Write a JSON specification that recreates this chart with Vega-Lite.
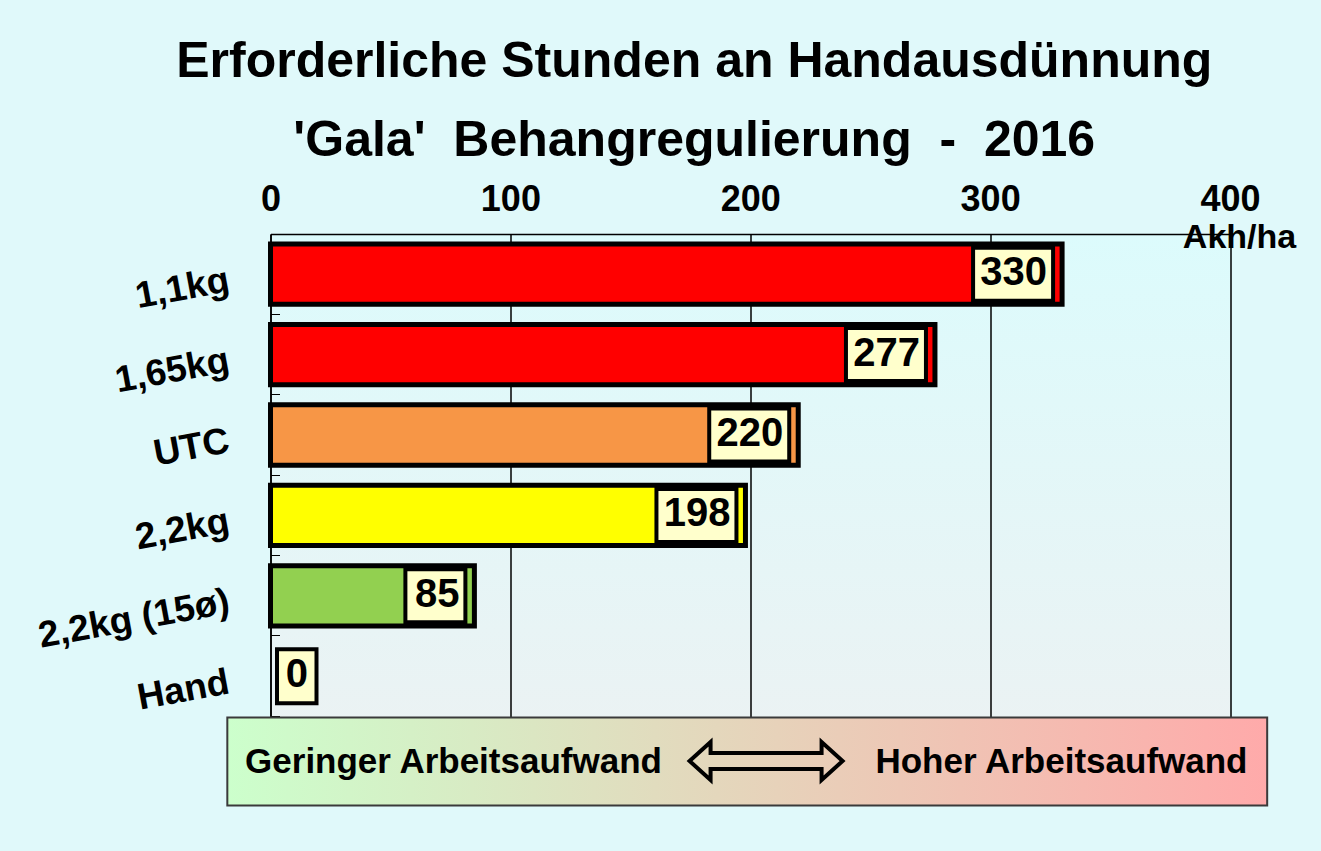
{
  "$schema": "https://vega.github.io/schema/vega-lite/v6.json",
  "autosize": {"type": "none"},
  "width": 959.5,
  "height": 562.8,
  "padding": {"left": 270.5, "top": 234, "right": 91, "bottom": 54.2},
  "background": "#e0f9fa",
  "view": {
    "stroke": null,
    "fill": {"gradient": "linear", "x1": 0, "y1": 0, "x2": 0, "y2": 1,
      "stops": [{"offset": 0, "color": "#dcfbfc"}, {"offset": 1, "color": "#edf1f2"}]}
  },
  "title": {
    "text": ["Erforderliche Stunden an Handausdünnung", "'Gala'\u00a0\u00a0Behangregulierung\u00a0\u00a0-\u00a0\u00a02016"],
    "font": "Liberation Sans",
    "fontSize": 50,
    "fontWeight": "bold",
    "color": "black",
    "lineHeight": 79,
    "anchor": "middle",
    "frame": "group",
    "dx": -56,
    "offset": 15
  },
  "datasets": {
    "werte": [
      {"Kategorie": "1,1kg", "Wert": 330},
      {"Kategorie": "1,65kg", "Wert": 277},
      {"Kategorie": "UTC", "Wert": 220},
      {"Kategorie": "2,2kg", "Wert": 198},
      {"Kategorie": "2,2kg (15ø)", "Wert": 85},
      {"Kategorie": "Hand", "Wert": 0}
    ],
    "notiz": [
      {"Kategorie": "box", "Links": "Geringer Arbeitsaufwand", "Rechts": "Hoher Arbeitsaufwand"}
    ]
  },
  "layer": [
    {
      "data": {"name": "werte"},
      "mark": {"type": "bar", "height": {"band": 0.75}, "stroke": "black", "strokeJoin": "miter"},
      "encoding": {
        "x": {
          "field": "Wert", "type": "quantitative",
          "scale": {"domain": [0, 400], "nice": false, "zero": true},
          "axis": {
            "orient": "top", "values": [0, 100, 200, 300, 400],
            "grid": true, "gridColor": "black", "gridWidth": 1.5, "gridOpacity": 1,
            "domain": true, "domainColor": "black", "domainWidth": 1.5,
            "ticks": false,
            "labelFont": "Liberation Sans", "labelFontSize": 36, "labelFontWeight": "bold", "labelColor": "black",
            "labelPadding": 24, "labelBaseline": "alphabetic", "labelFlush": false,
            "title": "Akh/ha", "titleFont": "Liberation Sans", "titleFontSize": 34, "titleFontWeight": "bold",
            "titleColor": "black", "titleX": 968.5, "titleY": 13, "titleAlign": "center",
            "titleBaseline": "alphabetic", "titleAngle": 0
          }
        },
        "y": {
          "field": "Kategorie", "type": "nominal",
          "scale": {"domain": ["1,1kg", "1,65kg", "UTC", "2,2kg", "2,2kg (15ø)", "Hand", "box"], "paddingInner": 0, "paddingOuter": 0},
          "axis": {
            "orient": "left", "title": null, "grid": false,
            "domain": true, "domainColor": "black", "domainWidth": 1.5,
            "ticks": true, "tickSize": -9, "tickColor": "black", "tickWidth": 1, "bandPosition": 0,
            "labelFont": "Liberation Sans", "labelFontSize": 37, "labelFontWeight": "bold", "labelColor": "black",
            "labelAngle": -10.5, "labelAlign": "right", "labelBaseline": "middle",
            "labelPadding": 51, "labelOffset": 6, "labelLimit": 500,
            "labelExpr": "datum.value == 'box' ? '' : datum.value"
          }
        },
        "color": {
          "field": "Kategorie", "type": "nominal",
          "scale": {"domain": ["1,1kg", "1,65kg", "UTC", "2,2kg", "2,2kg (15ø)", "Hand"],
            "range": ["#ff0000", "#ff0000", "#f79646", "#ffff00", "#92d050", "#92d050"]},
          "legend": null
        },
        "strokeWidth": {"condition": {"test": "datum.Wert == 0", "value": 0}, "value": 5}
      }
    },
    {
      "data": {"name": "notiz"},
      "mark": {
        "type": "bar", "height": {"band": 1.095}, "yOffset": 5, "clip": false,
        "stroke": "#3a3a3a", "strokeWidth": 2,
        "fill": {"gradient": "linear", "x1": 0, "y1": 0, "x2": 1, "y2": 0,
          "stops": [{"offset": 0, "color": "#ccffcc"}, {"offset": 1, "color": "#ffaaaa"}]}
      },
      "encoding": {
        "x": {"datum": -18, "type": "quantitative"},
        "x2": {"datum": 415.5},
        "y": {"field": "Kategorie", "type": "nominal"}
      }
    },
    {
      "data": {"name": "notiz"},
      "mark": {"type": "text", "align": "left", "baseline": "middle", "dy": 5.5, "font": "Liberation Sans", "fontSize": 35, "fontWeight": "bold", "color": "black", "clip": false},
      "encoding": {
        "x": {"datum": -10.6, "type": "quantitative"},
        "y": {"field": "Kategorie", "type": "nominal"},
        "text": {"field": "Links"}
      }
    },
    {
      "data": {"name": "notiz"},
      "mark": {"type": "text", "align": "right", "baseline": "middle", "dy": 5.5, "font": "Liberation Sans", "fontSize": 35, "fontWeight": "bold", "color": "black", "clip": false},
      "encoding": {
        "x": {"datum": 407.3, "type": "quantitative"},
        "y": {"field": "Kategorie", "type": "nominal"},
        "text": {"field": "Rechts"}
      }
    },
    {
      "data": {"name": "notiz"},
      "mark": {
        "type": "point", "filled": false, "opacity": 1, "stroke": "black", "strokeWidth": 4, "strokeJoin": "miter", "yOffset": 4.4, "size": 1600,
        "shape": "M-3.825,0L-2.775,-0.95L-2.775,-0.4L2.775,-0.4L2.775,-0.95L3.825,0L2.775,0.95L2.775,0.4L-2.775,0.4L-2.775,0.95Z"
      },
      "encoding": {
        "x": {"datum": 206.6, "type": "quantitative"},
        "y": {"field": "Kategorie", "type": "nominal"}
      }
    },
    {
      "data": {"name": "werte"},
      "mark": {"type": "point", "filled": true, "opacity": 1, "fill": "#ffffcc", "stroke": "black", "strokeWidth": 4, "strokeJoin": "miter", "size": 1600, "xOffset": -9},
      "encoding": {
        "x": {"field": "Wert", "type": "quantitative"},
        "y": {"field": "Kategorie", "type": "nominal"},
        "shape": {
          "field": "Kategorie", "type": "nominal", "legend": null,
          "scale": {
            "domain": ["1,1kg", "1,65kg", "UTC", "2,2kg", "2,2kg (15ø)", "Hand"],
            "range": [
              "M-4,-1.325L0,-1.325L0,1.325L-4,1.325Z",
              "M-4,-1.325L0,-1.325L0,1.325L-4,1.325Z",
              "M-4,-1.325L0,-1.325L0,1.325L-4,1.325Z",
              "M-4,-1.325L0,-1.325L0,1.325L-4,1.325Z",
              "M-3,-1.325L0,-1.325L0,1.325L-3,1.325Z",
              "M0.775,-1.35L2.75,-1.35L2.75,1.35L0.775,1.35Z"
            ]
          }
        }
      }
    },
    {
      "data": {"name": "werte"},
      "transform": [{"filter": "datum.Wert > 0"}],
      "mark": {"type": "text", "align": "right", "baseline": "middle", "xOffset": -15, "dy": -1, "font": "Liberation Sans", "fontSize": 40, "fontWeight": "bold", "color": "black"},
      "encoding": {
        "x": {"field": "Wert", "type": "quantitative"},
        "y": {"field": "Kategorie", "type": "nominal"},
        "text": {"field": "Wert", "type": "quantitative", "format": "d"}
      }
    },
    {
      "data": {"name": "werte"},
      "transform": [{"filter": "datum.Wert == 0"}],
      "mark": {"type": "text", "align": "center", "baseline": "middle", "xOffset": 26.25, "dy": -1, "font": "Liberation Sans", "fontSize": 40, "fontWeight": "bold", "color": "black"},
      "encoding": {
        "x": {"field": "Wert", "type": "quantitative"},
        "y": {"field": "Kategorie", "type": "nominal"},
        "text": {"field": "Wert", "type": "quantitative", "format": "d"}
      }
    }
  ],
  "config": {
    "font": "Liberation Sans"
  }
}
